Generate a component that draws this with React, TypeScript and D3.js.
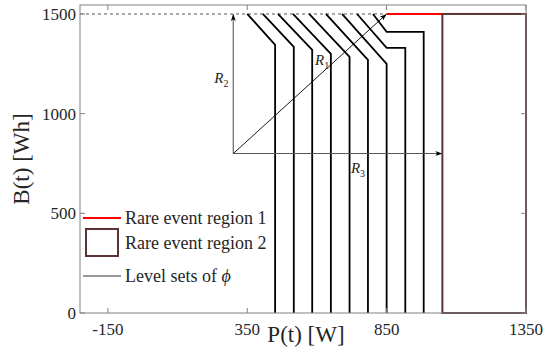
import * as d3 from "d3";

const width = 546;
const height = 347;
const margin = { top: 5, right: 20, bottom: 34, left: 80 };

// axis domain and ticks
const xDomain: [number, number] = [-250, 1350];
const yDomain: [number, number] = [0, 1545];
const xTicks = [-150, 350, 850, 1350];
const yTicks = [0, 500, 1000, 1500];

// level sets of phi: start on B=1500, diagonal to a bend, optional shelf, then straight down
const levelTopP = [350, 406, 460, 514, 572, 632, 690, 744, 801];
const levelBendP = [450, 517, 583, 650, 717, 783, 850, 850, 850];
const levelBendB = [1345, 1335, 1320, 1300, 1285, 1270, 1250, 1330, 1410];
const levelVertP = [450, 517, 583, 650, 717, 783, 850, 917, 983];

// rare event regions
const region1P: [number, number] = [850, 1050];
const region1B = 1500;
const region2P: [number, number] = [1050, 1350];
const region2B: [number, number] = [0, 1500];
const capB = 1500;

// R arrows
const arrowOrigin: [number, number] = [300, 800];
const arrowEnds: { name: string; sub: string; end: [number, number]; color: string; width: number; label: [number, number] }[] = [
  { name: "R", sub: "2", end: [300, 1500], color: "#7a7a7a", width: 1.4, label: [232, 1154] },
  { name: "R", sub: "1", end: [850, 1500], color: "#000", width: 0.9, label: [593, 1244] },
  { name: "R", sub: "3", end: [1050, 800], color: "#555", width: 1.2, label: [722, 702] },
];

const legendItems = ["Rare event region 1", "Rare event region 2", "Level sets of "];

const font = '"Liberation Serif", "Times New Roman", Times, serif';

export default function App() {
  const innerW = width - margin.left - margin.right;
  const innerH = height - margin.top - margin.bottom;
  const x = d3.scaleLinear().domain(xDomain).range([margin.left, margin.left + innerW]);
  const y = d3.scaleLinear().domain(yDomain).range([margin.top + innerH, margin.top]);
  const line = d3
    .line<[number, number]>()
    .x((d) => x(d[0]))
    .y((d) => y(d[1]));

  const levelPaths = levelTopP.map((top, i) => {
    const pts: [number, number][] = [
      [top, capB],
      [levelBendP[i], levelBendB[i]],
    ];
    if (levelVertP[i] !== levelBendP[i]) pts.push([levelVertP[i], levelBendB[i]]);
    pts.push([levelVertP[i], 0]);
    return line(pts) ?? "";
  });

  const x0 = x(xDomain[0]);
  const x1 = x(xDomain[1]);
  const yb = y(yDomain[0]);
  const yt = y(yDomain[1]);
  const axisColor = "#808080";
  const textColor = "#262626";
  const txt = { fontFamily: font };

  const legendX = 83;
  const legendY = [218, 243, 276];

  return (
    <svg
      width={width}
      height={height}
      style={{ position: "absolute", left: 0, top: 0, background: "#fff", fontFamily: font }}
    >
      <defs>
        <marker id="arrow" viewBox="0 0 10 10" refX="10" refY="5" markerWidth="7" markerHeight="7" orient="auto" markerUnits="userSpaceOnUse">
          <path d="M0,1.5 L10,5 L0,8.5 L2.5,5 Z" fill="#000" />
        </marker>
      </defs>

      {/* dashed cap at 1500 */}
      <line x1={x0} x2={x(region1P[0])} y1={y(capB)} y2={y(capB)} stroke="#555" strokeWidth={1} strokeDasharray="3 3" />

      {/* level sets */}
      {levelPaths.map((d, i) => (
        <path key={`lvl-${i}`} d={d} fill="none" stroke="#000" strokeWidth={1.8} strokeLinejoin="miter" />
      ))}

      {/* arrows */}
      {arrowEnds.map((a) => (
        <g key={a.sub}>
          <line
            x1={x(arrowOrigin[0])}
            y1={y(arrowOrigin[1])}
            x2={x(a.end[0])}
            y2={y(a.end[1])}
            stroke={a.color}
            strokeWidth={a.width}
            markerEnd="url(#arrow)"
          />
          <text x={x(a.label[0])} y={y(a.label[1])} fontSize={15} fontStyle="italic" fill={textColor} style={txt}>
            {a.name}
            <tspan fontSize={10} fontStyle="normal" dy={4}>{a.sub}</tspan>
          </text>
        </g>
      ))}

      {/* rare event regions */}
      <line x1={x(region1P[0])} x2={x(region1P[1])} y1={y(region1B)} y2={y(region1B)} stroke="#ff0000" strokeWidth={2} />
      <rect
        x={x(region2P[0])}
        y={y(region2B[1])}
        width={x(region2P[1]) - x(region2P[0])}
        height={y(region2B[0]) - y(region2B[1])}
        fill="none"
        stroke="#5a3434"
        strokeWidth={2}
      />

      {/* axes box */}
      <rect x={x0} y={yt} width={x1 - x0} height={yb - yt} fill="none" stroke={axisColor} strokeWidth={1} />
      {xTicks.map((t) => (
        <g key={`xt-${t}`}>
          <line x1={x(t)} x2={x(t)} y1={yb} y2={yb - 5} stroke={axisColor} />
          <line x1={x(t)} x2={x(t)} y1={yt} y2={yt + 5} stroke={axisColor} />
          <text x={x(t)} y={335} textAnchor="middle" fontSize={17} fill={textColor} style={txt}>
            {t}
          </text>
        </g>
      ))}
      {yTicks.map((t) => (
        <g key={`yt-${t}`}>
          <line x1={x0} x2={x0 + 5} y1={y(t)} y2={y(t)} stroke={axisColor} />
          <line x1={x1} x2={x1 - 5} y1={y(t)} y2={y(t)} stroke={axisColor} />
          <text x={x0 - 4} y={y(t) + 6} textAnchor="end" fontSize={17} fill={textColor} style={txt}>
            {t}
          </text>
        </g>
      ))}

      {/* axis labels */}
      <text x={(x0 + x1) / 2 + 3} y={342} textAnchor="middle" fontSize={23} fill={textColor} style={txt}>
        P(t) [W]
      </text>
      <text transform={`translate(29, ${(yt + yb) / 2}) rotate(-90)`} textAnchor="middle" fontSize={23} fill={textColor} style={txt}>
        B(t) [Wh]
      </text>

      {/* legend */}
      <line x1={legendX} x2={legendX + 38} y1={legendY[0]} y2={legendY[0]} stroke="#ff0000" strokeWidth={2} />
      <rect x={legendX + 3} y={legendY[1] - 14} width={32} height={27} fill="none" stroke="#5a3434" strokeWidth={2} />
      <line x1={legendX} x2={legendX + 38} y1={legendY[2]} y2={legendY[2]} stroke="#333" strokeWidth={1} />
      {legendItems.map((label, i) => (
        <text key={label} x={legendX + 42} y={legendY[i] + 6} fontSize={18} fill={textColor} style={txt}>
          {label}
          {i === 2 ? <tspan fontStyle="italic">ϕ</tspan> : null}
        </text>
      ))}
    </svg>
  );
}
